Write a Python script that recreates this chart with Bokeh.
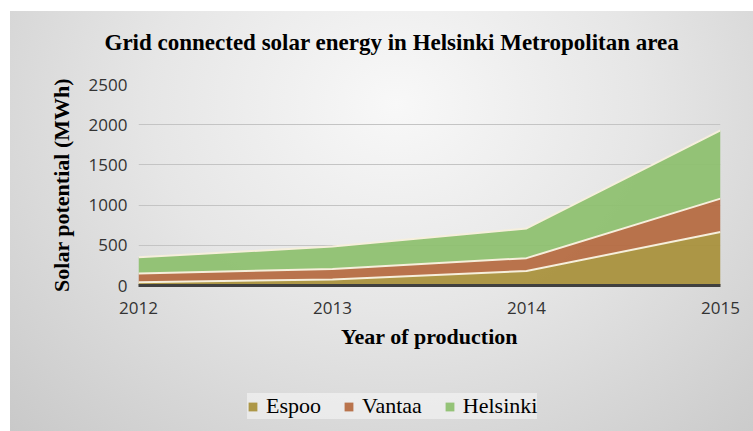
from bokeh.plotting import figure
from bokeh.layouts import column
from bokeh.models import (Range1d, FixedTicker, ColumnDataSource, Legend, LegendItem)
from bokeh.embed import file_html
from bokeh.resources import INLINE

# ---- data ----
years = [2012, 2013, 2014, 2015]
espoo = [40, 75, 180, 665]
vantaa = [110, 130, 160, 415]
helsinki = [200, 280, 370, 850]
series_names = ["Espoo", "Vantaa", "Helsinki"]
colors = ["#A8903A", "#B5693F", "#8DBF6E"]
y_ticks = [0, 500, 1000, 1500, 2000, 2500]

title_text = "Grid connected solar energy in Helsinki Metropolitan area"

W = 743


def bare(fig):
    fig.border_fill_color = None
    fig.background_fill_color = None
    fig.outline_line_color = None
    return fig


source = ColumnDataSource(dict(year=years, Espoo=espoo, Vantaa=vantaa, Helsinki=helsinki))

# ---- title strip ----
t = bare(figure(width=W, height=63, output_backend="svg", toolbar_location=None,
                x_range=Range1d(0, 1), y_range=Range1d(0, 1),
                x_axis_type=None, y_axis_type=None,
                min_border_top=0, min_border_bottom=0))
t.grid.visible = False
t.title.text = title_text
t.title.align = "left"
t.title.offset = -34
t.title.vertical_align = "bottom"
t.title.standoff = 33
t.title.text_font = "Liberation Serif"
t.title.text_font_style = "bold"
t.title.text_font_size = "23px"
t.title.text_color = "#000000"

# ---- main chart ----
p = bare(figure(width=W, height=300, output_backend="svg", toolbar_location=None,
                x_range=Range1d(2012, 2015), y_range=Range1d(0, 2500),
                min_border_left=128, min_border_right=33, min_border_top=10, min_border_bottom=89))

areas = p.varea_stack(stackers=series_names, x="year", color=colors, fill_alpha=0.93, source=source)

cum1 = [a for a in espoo]
cum2 = [a + b for a, b in zip(espoo, vantaa)]
cum3 = [a + b + c for a, b, c in zip(espoo, vantaa, helsinki)]
for c in (cum1, cum2, cum3):
    p.line(years, c, line_color="#f6efdc", line_width=2)

p.xgrid.grid_line_color = None
p.ygrid.grid_line_color = "#c4c4c4"
p.ygrid.grid_line_width = 1
p.ygrid.ticker = FixedTicker(ticks=y_ticks)
p.ygrid.level = "underlay"

p.xaxis.ticker = FixedTicker(ticks=years)
p.yaxis.ticker = FixedTicker(ticks=y_ticks)
for ax in (p.xaxis[0], p.yaxis[0]):
    ax.major_tick_line_color = None
    ax.minor_tick_line_color = None
    ax.major_label_text_font = "Open Sans"
    ax.major_label_text_font_size = "17px"
    ax.major_label_text_color = "#333333"
    ax.axis_label_text_font = "Liberation Serif"
    ax.axis_label_text_font_style = "bold"
    ax.axis_label_text_font_size = "22px"
    ax.axis_label_text_color = "#000000"
p.yaxis.axis_line_color = None
p.xaxis.axis_line_color = "#404040"
p.xaxis.axis_line_width = 3
p.xaxis.major_label_standoff = 10
p.yaxis.major_label_standoff = 5
p.xaxis.axis_label = "Year of production"
p.yaxis.axis_label = "Solar potential (MWh)"
p.xaxis.axis_label_standoff = 7
p.yaxis.axis_label_standoff = 12

# ---- legend strip (same data, drawn outside the strip's visible range) ----
q = bare(figure(width=W, height=57, output_backend="svg", toolbar_location=None,
                x_range=Range1d(0, 1), y_range=Range1d(0, 1),
                x_axis_type=None, y_axis_type=None,
                min_border_top=0, min_border_bottom=0))
q.grid.visible = False
proxies = q.varea_stack(stackers=series_names, x="year", color=colors, fill_alpha=0.93, source=source)
legend = Legend(items=[LegendItem(label=n, renderers=[r]) for n, r in zip(series_names, proxies)],
                orientation="horizontal", location=(109, 12), margin=0,
                label_text_font="Liberation Serif", label_text_font_size="22px",
                label_text_color="#000000", glyph_width=11, glyph_height=11,
                label_standoff=8, spacing=22, padding=11, label_height=20,
                background_fill_color="#ffffff", background_fill_alpha=0.45,
                border_line_color=None)
q.add_layout(legend, "center")

layout = column(t, p, q, spacing=0)
layout.styles = {"margin-left": "10px", "margin-top": "11px",
                 "background": "radial-gradient(ellipse farthest-corner at 52% 22%, #f8f8f8 0%, #e6e6e6 45%, #c9c9c9 100%)"}

open("out.html", "w").write(file_html(layout, INLINE))
